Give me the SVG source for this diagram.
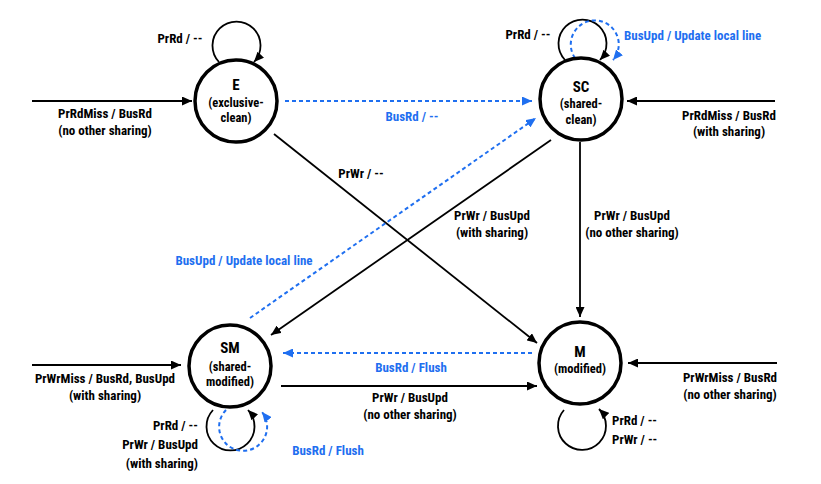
<svg xmlns="http://www.w3.org/2000/svg" width="821" height="484" viewBox="0 0 821 484">
<defs>
<marker id="ak" markerUnits="userSpaceOnUse" markerWidth="10" markerHeight="9" refX="10" refY="4.5" orient="auto"><path d="M0,0 L10,4.5 L0,9 z" fill="#000"/></marker>
<marker id="ab" markerUnits="userSpaceOnUse" markerWidth="10" markerHeight="9" refX="10" refY="4.5" orient="auto"><path d="M0,0 L10,4.5 L0,9 z" fill="#1f6ff0"/></marker>
<style>
text{font-family:"Liberation Sans Narrow","Roboto Condensed","DejaVu Sans Condensed","Liberation Sans",sans-serif;font-weight:bold;font-size:13px;fill:#000;text-anchor:middle}
.b{fill:#1f6ff0}
.st{font-size:15px}
.sub{font-size:12.5px}
.r{text-anchor:end}
.s{text-anchor:start}
.node{fill:#fff;stroke:#000;stroke-width:3.5}
.k{fill:none;stroke:#000;stroke-width:1.8;marker-end:url(#ak)}
.d{fill:none;stroke:#1f6ff0;stroke-width:2;stroke-dasharray:4 3;marker-end:url(#ab)}
</style>
</defs>
<rect width="821" height="484" fill="#fff"/>
<g id="connectors">
<line class="k" x1="32" y1="101" x2="192" y2="101"/>
<path class="k" d="M219,62 A24,24 0 1 1 254,62"/>
<line class="d" x1="285" y1="101" x2="532" y2="101"/>
<path class="k" d="M565,60 A24,24 0 1 1 600,60"/>
<path class="d" d="M575,58 A24,24 0 1 1 613,60"/>
<line class="k" x1="775" y1="101" x2="627" y2="101"/>
<line class="k" x1="274" y1="134" x2="537" y2="343"/>
<line class="k" x1="551" y1="140" x2="271" y2="335"/>
<line class="d" x1="250" y1="318" x2="536" y2="118"/>
<line class="k" x1="580" y1="142" x2="580" y2="317"/>
<line class="d" x1="532" y1="353" x2="283" y2="353"/>
<line class="k" x1="281" y1="386" x2="537" y2="386"/>
<line class="k" x1="32" y1="365" x2="181" y2="365"/>
<path class="k" d="M213,410 A24,24 0 1 0 248,410"/>
<path class="d" d="M226,410 A24,24 0 1 0 262,412"/>
<path class="k" d="M564,410 A24,24 0 1 0 599,409"/>
<line class="k" x1="777" y1="363" x2="628" y2="363"/>
</g>
<g id="E"><circle class="node" cx="236" cy="101" r="41"/><text x="236" y="90" class="st">E</text><text x="236" y="107" class="sub">(exclusive-</text><text x="236" y="122" class="sub">clean)</text></g>
<g id="SC"><circle class="node" cx="581" cy="99" r="41"/><text x="581" y="92" class="st">SC</text><text x="581" y="108" class="sub">(shared-</text><text x="581" y="124" class="sub">clean)</text></g>
<g id="SM"><circle class="node" cx="230" cy="366" r="41"/><text x="230" y="353" class="st">SM</text><text x="230" y="371" class="sub">(shared-</text><text x="230" y="386" class="sub">modified)</text></g>
<g id="M"><circle class="node" cx="580" cy="363" r="41"/><text x="580" y="357" class="st">M</text><text x="580" y="373" class="sub">(modified)</text></g>
<g id="labels">
<text x="180" y="43">PrRd / --</text>
<text x="105" y="118">PrRdMiss / BusRd</text>
<text x="105" y="135">(no other sharing)</text>
<text x="412" y="121" class="b">BusRd / --</text>
<text x="528" y="39">PrRd / --</text>
<text x="624" y="40" class="b s">BusUpd / Update local line</text>
<text x="729" y="120">PrRdMiss / BusRd</text>
<text x="729" y="136">(with sharing)</text>
<text x="361" y="178">PrWr / --</text>
<text x="492" y="220">PrWr / BusUpd</text>
<text x="492" y="237">(with sharing)</text>
<text x="632" y="220">PrWr / BusUpd</text>
<text x="632" y="237">(no other sharing)</text>
<text x="244" y="265" class="b">BusUpd / Update local line</text>
<text x="411" y="372" class="b">BusRd / Flush</text>
<text x="410" y="402">PrWr / BusUpd</text>
<text x="410" y="419">(no other sharing)</text>
<text x="105" y="383">PrWrMiss / BusRd, BusUpd</text>
<text x="105" y="400">(with sharing)</text>
<text x="198" y="430" class="r">PrRd / --</text>
<text x="198" y="449" class="r">PrWr / BusUpd</text>
<text x="198" y="468" class="r">(with sharing)</text>
<text x="328" y="455" class="b">BusRd / Flush</text>
<text x="612" y="425" class="s">PrRd / --</text>
<text x="612" y="444" class="s">PrWr / --</text>
<text x="730" y="382">PrWrMiss / BusRd</text>
<text x="730" y="399">(no other sharing)</text>
</g>
</svg>
